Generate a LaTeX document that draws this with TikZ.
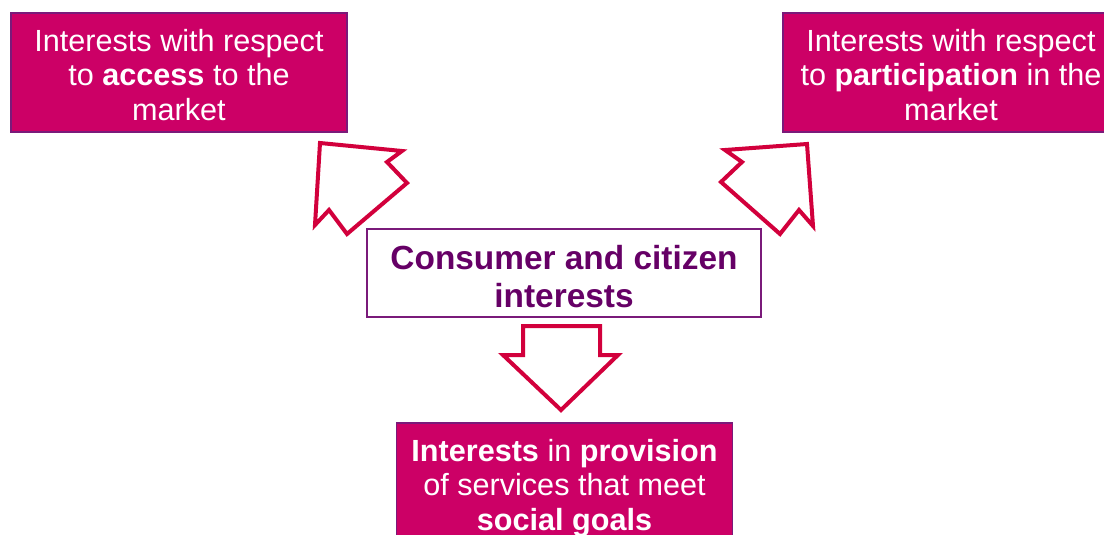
\documentclass[tikz,border=0pt]{standalone}
\usepackage{fontspec}
\setmainfont{Liberation Sans}
\definecolor{magbox}{HTML}{CC0066}
\definecolor{boxedge}{HTML}{7A1A7A}
\definecolor{arrowred}{HTML}{D2003C}
\definecolor{darkpurple}{HTML}{660066}
\tikzset{
  magnode/.style={fill=magbox, draw=boxedge, line width=1.5pt,
    inner sep=0pt, minimum width=336pt, minimum height=119pt},
  magtext/.style={text=white, align=center, inner sep=0pt,
    font=\fontsize{30.6}{34.5}\selectfont},
  centrenode/.style={fill=white, draw=boxedge, line width=1.5pt,
    inner sep=0pt, minimum width=394pt, minimum height=88pt},
  centretext/.style={text=darkpurple, align=center, inner sep=0pt,
    font=\fontsize{33.4}{38}\selectfont\bfseries},
  blockarrow/.style={draw=arrowred, line width=4pt, line join=miter, fill=white}
}
\begin{document}
\begin{tikzpicture}[x=1pt,y=-1pt]
\useasboundingbox (0,0) rectangle (1104,535);
\fill[white] (0,0) rectangle (1104,535);
\begin{scope}
\clip (0,0) rectangle (1104,535);
\node[magnode] (access) at (179,72.5) {};
\node[magtext] (accesstext) at (179,75) {Interests with respect\\to \textbf{access} to the\\market};
\node[magnode] (particip) at (951,72.5) {};
\node[magtext] (partictext) at (951,75) {Interests with respect\\to \textbf{participation} in the\\market};
\node[magnode, minimum height=150pt] (provision) at (564.5,498) {};
\node[magtext] (provtext) at (564.5,488) {\textbf{Interests} in \textbf{provision}\\of services that meet\\\textbf{social goals}};
\end{scope}
\node[centrenode] (centre) at (564,273) {};
\node[centretext] (centretxt) at (564,276.5) {Consumer and citizen\\interests};
% block arrows
\draw[blockarrow] (320,143) -- (402,151) -- (387,162) -- (407,183) -- (347,234) -- (329,210) -- (315,225) -- cycle;
\draw[blockarrow] (807,144) -- (725,150) -- (742,162) -- (721,182) -- (780,234) -- (799,210) -- (813,226) -- cycle;
\draw[blockarrow] (523,326) -- (600,326) -- (600,355) -- (618,355) -- (561,410) -- (503,355) -- (523,355) -- cycle;
\end{tikzpicture}
\end{document}
